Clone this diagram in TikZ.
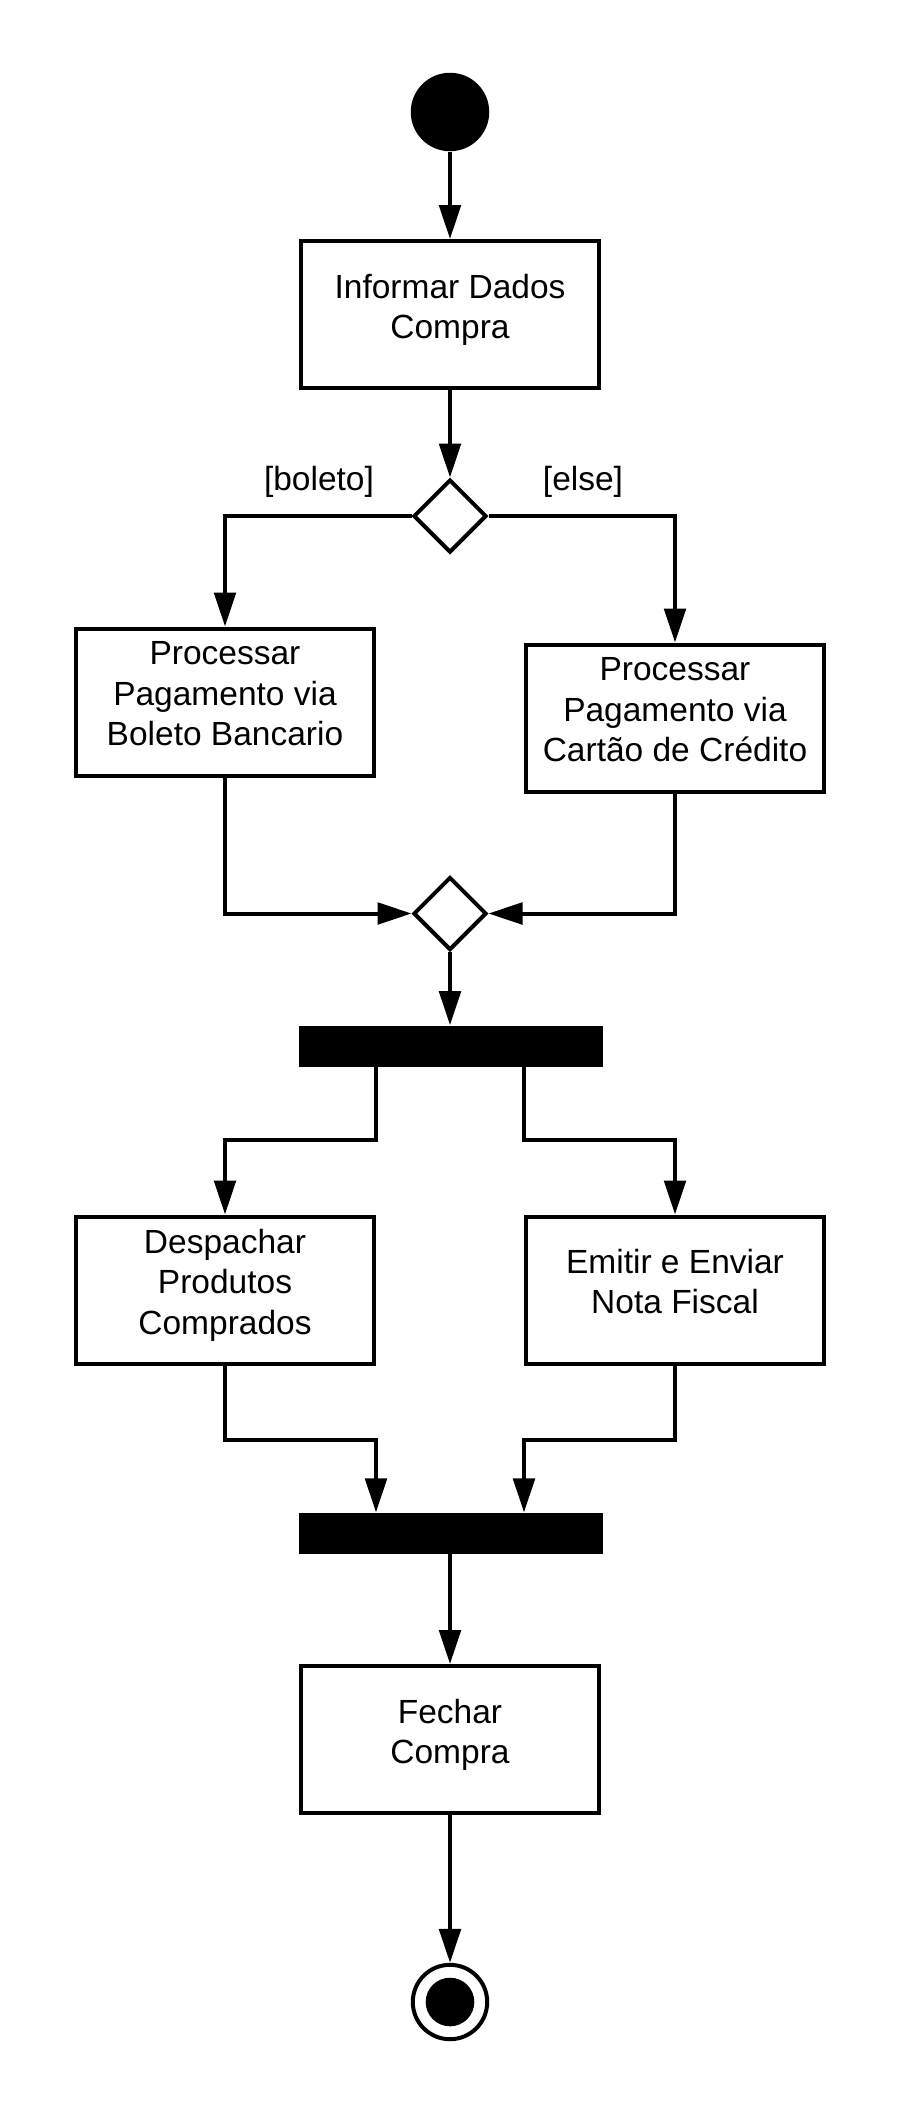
\documentclass[tikz,border=0pt]{standalone}
\usepackage{fontspec}
\setmainfont{Liberation Sans}
\usetikzlibrary{arrows.meta,shapes.geometric}
\begin{document}
\begin{tikzpicture}[x=0.5pt,y=-0.5pt,
  every node/.style={font=\fontsize{16.75pt}{20.15pt}\selectfont},
  act/.style={draw,line width=2pt,minimum width=149pt,minimum height=73.5pt,align=center,inner sep=0pt,
    execute at begin node={\rule{0pt}{13.6pt}},
    execute at end node={\rule[-8.4pt]{0pt}{8.4pt}}},
  dec/.style={draw,diamond,line width=2pt,minimum width=36.5pt,minimum height=36.5pt,inner sep=0pt},
  bar/.style={fill=black,minimum width=152pt,minimum height=20.5pt,inner sep=0pt},
  arr/.style={line width=2pt,-{Triangle[length=17pt,width=10.75pt]}},
  lbl/.style={inner sep=0pt}
]
\fill[white] (0,0) rectangle (900,2115);
\useasboundingbox (0,0) rectangle (900,2115);

\node[circle,fill=black,minimum size=39.25pt,inner sep=0pt] (start) at (450,112) {};
\node[act] (b1) at (450,314.5) {Informar Dados\\Compra};
\node[dec] (d1) at (450,516) {};
\node[lbl] (lb) at (319,482) {[boleto]};
\node[lbl] (le) at (583,482) {[else]};
\node[act] (l1) at (225,702) {Processar\\Pagamento via\\Boleto Bancario};
\node[act] (r1) at (675,718) {Processar\\Pagamento via\\Cartão de Crédito};
\node[dec] (m) at (450,913.5) {};
\node[bar] (fork1) at (450.5,1046) {};
\node[act] (l2) at (225,1290) {Despachar\\Produtos\\Comprados};
\node[act] (r2) at (675,1290) {Emitir e Enviar\\Nota Fiscal};
\node[bar] (join) at (450.5,1533.3) {};
\node[act] (close) at (450,1739.5) {Fechar\\Compra};
\node[circle,draw,line width=2pt,minimum size=37.2pt,inner sep=0pt] (end) at (450,2002) {};
\node[circle,fill=black,minimum size=24.3pt,inner sep=0pt] (endin) at (end) {};

\draw[arr] (start) -- (b1);
\draw[arr] (b1) -- (d1);
\draw[arr] (d1.west) -| (l1.north);
\draw[arr] (d1.east) -| (r1.north);
\draw[arr] (l1.south) |- (m.west);
\draw[arr] (r1.south) |- (m.east);
\draw[arr] (m) -- (fork1.north -| m);
\draw[arr] (fork1.south -| l2.east) -- ++(0,73) -| (l2.north);
\draw[arr] (fork1.south -| r2.west) -- ++(0,73) -| (r2.north);
\draw[arr] (l2.south) -- ++(0,74) -| (join.north -| l2.east);
\draw[arr] (r2.south) -- ++(0,74) -| (join.north -| r2.west);
\draw[arr] (join.south -| close) -- (close);
\draw[arr] (close) -- (end);
\end{tikzpicture}
\end{document}
